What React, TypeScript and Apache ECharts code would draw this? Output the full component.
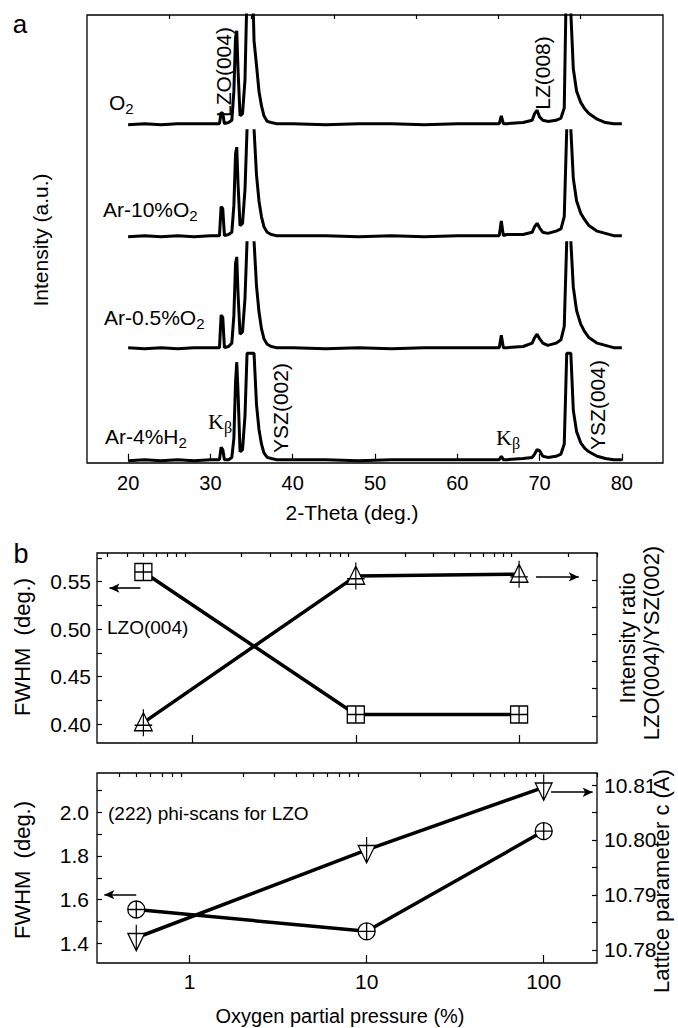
import React, { useEffect, useRef } from "react";
import * as echarts from "echarts";

// ---------- Panel a: XRD theta-2theta scans ----------
const twoTheta = [
  20, 22, 24, 26, 28, 30,
  31.1, 31.3, 31.5, 31.7,
  32.2, 32.6, 32.85, 33.05, 33.2, 33.35, 33.6, 33.9,
  34.2, 34.45, 34.7, 35.0, 35.3, 35.6, 35.9, 36.2, 36.5, 36.9, 37.4, 38,
  40, 44, 48, 52, 56, 60, 63,
  65.1, 65.35, 65.6, 66, 68,
  69.1, 69.4, 69.7, 70.0, 70.4, 71, 72,
  72.6, 73.0, 73.3, 73.55, 73.8, 74.1, 74.5, 75, 75.5, 76, 77, 78, 79, 80,
];
// intensities relative to each trace's own baseline (null = off the visible window)
const traceO2 = [
  0.0, 0.01, 0.0, 0.01, 0.01, 0.01,
  0.01, 0.11, 0.1, 0.01,
  0.02, 0.04, 0.3, 0.78, 0.84, 0.5, 0.08, 0.1,
  0.4, 1.2, 1.6, 1.6, 0.75, 0.53, 0.3, 0.17, 0.08, 0.03, 0.02, 0.01,
  0.01, 0.0, 0.01, 0.01, 0.0, 0.01, 0.01,
  0.01, 0.08, 0.01, 0.01, 0.02,
  0.04, 0.1, 0.13, 0.07, 0.04, 0.03, 0.04,
  0.06, 0.15, 1.5, 1.6, 1.0, 0.5, 0.3, 0.2, 0.14, 0.1, 0.05, 0.02, 0.01, 0.01,
];
const traceAr10O2 = [
  0.0, 0.01, 0.0, 0.01, 0.0, 0.01,
  0.01, 0.27, 0.25, 0.01,
  0.02, 0.04, 0.28, 0.74, 0.8, 0.48, 0.1, 0.12,
  0.42, 0.96, null, null, 0.96, 0.55, 0.32, 0.18, 0.09, 0.04, 0.02, 0.01,
  0.01, 0.01, 0.0, 0.01, 0.0, 0.01, 0.01,
  0.01, 0.14, 0.01, 0.02, 0.02,
  0.04, 0.09, 0.12, 0.08, 0.04, 0.03, 0.05,
  0.07, 0.18, 0.96, null, 0.96, 0.52, 0.32, 0.21, 0.15, 0.1, 0.05, 0.03, 0.01, 0.01,
];
const traceAr05O2 = [
  0.01, 0.0, 0.01, 0.0, 0.01, 0.01,
  0.01, 0.3, 0.28, 0.01,
  0.02, 0.05, 0.3, 0.76, 0.82, 0.5, 0.13, 0.15,
  0.45, 0.96, null, null, 0.96, 0.56, 0.33, 0.18, 0.09, 0.04, 0.02, 0.01,
  0.01, 0.0, 0.01, 0.0, 0.01, 0.01, 0.01,
  0.01, 0.12, 0.01, 0.01, 0.02,
  0.05, 0.1, 0.13, 0.09, 0.05, 0.03, 0.05,
  0.08, 0.2, 0.96, null, 0.96, 0.55, 0.34, 0.22, 0.15, 0.1, 0.05, 0.03, 0.01, 0.01,
];
const traceAr4H2 = [
  0.0, 0.01, 0.0, 0.01, 0.0, 0.01,
  0.01, 0.12, 0.1, 0.01,
  0.01, 0.03, 0.2, 0.7, 0.88, 0.62, 0.08, 0.1,
  0.4, 0.96, 0.96, 0.96, 0.96, 0.5, 0.28, 0.15, 0.07, 0.03, 0.02, 0.01,
  0.01, 0.01, 0.0, 0.01, 0.01, 0.01, 0.01,
  0.01, 0.04, 0.01, 0.01, 0.02,
  0.03, 0.06, 0.1, 0.09, 0.04, 0.03, 0.04,
  0.06, 0.15, 0.96, 0.96, 0.96, 0.45, 0.26, 0.16, 0.11, 0.08, 0.04, 0.02, 0.01, 0.01,
];
const traces = [traceO2, traceAr10O2, traceAr05O2, traceAr4H2];
const traceOffsets = [3, 2, 1, 0];
const thetaTicks = [20, 30, 40, 50, 60, 70, 80];
const thetaMinorTicks = [25, 35, 45, 55, 65, 75];

// ---------- Panel b ----------
const pressure = [0.5, 10, 100];
const lzoFwhm = [0.56, 0.41, 0.41];
const intensityRatio = [0.75, 6.15, 6.22]; // unlabelled right axis
const phiFwhm = [1.555, 1.455, 1.914];
const latticeC = [10.7822, 10.7982, 10.8096];

const pressureTicks = [1, 10, 100];
const pressureMinorMid = [0.3, 0.4, 0.5, 0.6, 0.7, 0.8, 0.9, 2, 3, 4, 5, 6, 7, 8, 9, 20, 30, 40, 50, 60, 70, 80, 90, 200, 300];
const pressureMinorBot = [0.4, 0.5, 0.6, 0.7, 0.8, 0.9, 2, 3, 4, 5, 6, 7, 8, 9, 20, 30, 40, 50, 60, 70, 80, 90, 200];
const fwhmTopLabels = [0.4, 0.45, 0.5, 0.55];
const fwhmTopTicks = [0.4, 0.425, 0.45, 0.475, 0.5, 0.525, 0.55, 0.575];
const ratioTicks = [1, 2, 3, 4, 5, 6];
const fwhmBotLabels = [1.4, 1.6, 1.8, 2.0];
const fwhmBotTicks = [1.4, 1.5, 1.6, 1.7, 1.8, 1.9, 2.0, 2.1];
const latticeLabels = [10.78, 10.79, 10.8, 10.81];
const latticeTicks = [10.78, 10.785, 10.79, 10.795, 10.8, 10.805, 10.81];

// arrow annotations [x1, x2, y]
const arrowLzo = [0.48, 0.31, 0.543];
const arrowRatio = [127, 232, 6.12];
const arrowPhi = [0.5, 0.33, 1.623];
const arrowLattice = [110, 189, 10.8087];

const FONT = "'Liberation Sans', Arial, Helvetica, sans-serif";
const SERIF = "'Liberation Serif', 'Times New Roman', serif";

const SYM_SQUARE = "path://M0,0H10V10H0Z M5,0V10 M0,5H10";
const SYM_TRI_UP = "path://M0,12L6,2L12,12Z M6,0V15 M0,9H12";
const SYM_CIRCLE = "path://M0,5A5,5,0,1,1,10,5A5,5,0,1,1,0,5Z M5,0V10 M0,5H10";
const SYM_TRI_DOWN = "path://M0,5H12L6,15Z M6,0V15";

function arrowMark(a: number[]) {
  return {
    silent: true,
    symbol: ["none", "arrow"],
    symbolSize: [7, 10],
    label: { show: false },
    lineStyle: { color: "#000", width: 1.6, type: "solid" },
    data: [[{ coord: [a[0], a[2]] }, { coord: [a[1], a[2]] }]],
  };
}

function subText(x: number, y: number, main: string, sub: string, size = 21) {
  return {
    type: "text",
    x,
    y,
    style: {
      text: `{n|${main}}{s|${sub}}`,
      align: "left",
      verticalAlign: "middle",
      fill: "#000",
      rich: {
        n: { fontSize: size, fontFamily: FONT, lineHeight: 28, verticalAlign: "middle", fill: "#000" },
        s: { fontSize: 15, fontFamily: FONT, lineHeight: 15, verticalAlign: "bottom", fill: "#000" },
      },
    },
  };
}

function kBeta(x: number, y: number) {
  return {
    type: "text",
    x,
    y,
    style: {
      text: "{n|K}{s|β}",
      align: "left",
      verticalAlign: "middle",
      fill: "#000",
      rich: {
        n: { fontSize: 22, fontFamily: SERIF, lineHeight: 28, verticalAlign: "middle", fill: "#000" },
        s: { fontSize: 16, fontFamily: SERIF, lineHeight: 16, verticalAlign: "bottom", fill: "#000" },
      },
    },
  };
}

function rotText(x: number, y: number, text: string, size = 21) {
  return {
    type: "text",
    x,
    y,
    rotation: Math.PI / 2,
    style: { text, fontSize: size, fontFamily: FONT, fill: "#000", align: "center", verticalAlign: "middle" },
  };
}

function plainText(x: number, y: number, text: string, size = 21, align = "left") {
  return {
    type: "text",
    x,
    y,
    style: { text, fontSize: size, fontFamily: FONT, fill: "#000", align, verticalAlign: "middle" },
  };
}

export default function App() {
  const ref = useRef<HTMLDivElement>(null);
  useEffect(() => {
    if (!ref.current) return;
    const chart = echarts.init(ref.current, undefined, { renderer: "svg" });

    const gridBase = { show: true, borderColor: "#000", borderWidth: 1.3, backgroundColor: "transparent", containLabel: false };
    const noLine = { show: false };
    const labelStyle = { color: "#000", fontFamily: FONT, fontSize: 21 };

    const xrdSeries = traces.map((tr, k) => ({
      type: "line",
      name: String(k),
      xAxisIndex: 0,
      yAxisIndex: 0,
      showSymbol: false,
      symbol: "none",
      connectNulls: false,
      clip: true,
      lineStyle: { color: "#000", width: 3 },
      data: twoTheta.map((t, i) => [t, tr[i] == null ? "-" : (tr[i] as number) + traceOffsets[k]]),
    }));

    const option: any = {
      animation: false,
      grid: [
        { ...gridBase, left: 87, top: 15, width: 576, height: 448 },
        { ...gridBase, left: 97, top: 553, width: 500, height: 190 },
        { ...gridBase, left: 97, top: 773, width: 500, height: 190 },
      ],
      xAxis: [
        {
          type: "value", gridIndex: 0, min: 15, max: 85,
          axisLine: noLine, splitLine: noLine,
          axisTick: { show: true, inside: true, length: 7, customValues: thetaTicks, lineStyle: { color: "#000", width: 1.2 } },
          axisLabel: { ...labelStyle, fontSize: 20, margin: 10, customValues: thetaTicks },
        },
        {
          type: "value", gridIndex: 0, min: 15, max: 85,
          axisLine: noLine, splitLine: noLine, axisLabel: { show: false },
          axisTick: { show: true, inside: true, length: 4, customValues: thetaMinorTicks, lineStyle: { color: "#000", width: 1.2 } },
        },
        {
          type: "log", logBase: 10, gridIndex: 1, min: 0.26, max: 300,
          axisLine: noLine, splitLine: noLine, axisLabel: { show: false },
          axisTick: { show: true, inside: true, length: 8, customValues: pressureTicks, lineStyle: { color: "#000", width: 1.2 } },
        },
        {
          type: "log", logBase: 10, gridIndex: 1, min: 0.26, max: 300,
          axisLine: noLine, splitLine: noLine, axisLabel: { show: false },
          axisTick: { show: true, inside: true, length: 4, customValues: pressureMinorMid, lineStyle: { color: "#000", width: 1.2 } },
        },
        {
          type: "log", logBase: 10, gridIndex: 2, min: 0.3, max: 200,
          axisLine: noLine, splitLine: noLine,
          axisLabel: { ...labelStyle, margin: 8, customValues: pressureTicks, formatter: (v: number) => String(Math.round(v)) },
          axisTick: { show: true, inside: true, length: 8, customValues: pressureTicks, lineStyle: { color: "#000", width: 1.2 } },
        },
        {
          type: "log", logBase: 10, gridIndex: 2, min: 0.3, max: 200,
          axisLine: noLine, splitLine: noLine, axisLabel: { show: false },
          axisTick: { show: true, inside: true, length: 4, customValues: pressureMinorBot, lineStyle: { color: "#000", width: 1.2 } },
        },
      ],
      yAxis: [
        {
          type: "value", gridIndex: 0, min: -0.02, max: 3.98,
          axisLine: noLine, splitLine: noLine, axisLabel: { show: false }, axisTick: { show: false },
        },
        {
          type: "value", gridIndex: 1, min: 0.38, max: 0.58, position: "left",
          axisLine: noLine, splitLine: noLine,
          axisLabel: { ...labelStyle, margin: 6, customValues: fwhmTopLabels, formatter: (v: number) => v.toFixed(2) },
          axisTick: { show: true, inside: true, length: 5, customValues: fwhmTopTicks, lineStyle: { color: "#000", width: 1.2 } },
        },
        {
          type: "value", gridIndex: 1, min: 0, max: 7, position: "right",
          axisLine: noLine, splitLine: noLine, axisLabel: { show: false },
          axisTick: { show: true, inside: true, length: 5, customValues: ratioTicks, lineStyle: { color: "#000", width: 1.2 } },
        },
        {
          type: "value", gridIndex: 2, min: 1.31, max: 2.18, position: "left",
          axisLine: noLine, splitLine: noLine,
          axisLabel: { ...labelStyle, margin: 8, customValues: fwhmBotLabels, formatter: (v: number) => v.toFixed(1) },
          axisTick: { show: true, inside: true, length: 5, customValues: fwhmBotTicks, lineStyle: { color: "#000", width: 1.2 } },
        },
        {
          type: "value", gridIndex: 2, min: 10.7776, max: 10.8122, position: "right",
          axisLine: noLine, splitLine: noLine,
          axisLabel: { ...labelStyle, margin: 7, customValues: latticeLabels, formatter: (v: number) => v.toFixed(2) },
          axisTick: { show: true, inside: true, length: 5, customValues: latticeTicks, lineStyle: { color: "#000", width: 1.2 } },
        },
      ],
      series: [
        ...xrdSeries,
        {
          type: "line", xAxisIndex: 2, yAxisIndex: 1,
          data: pressure.map((p, i) => [p, lzoFwhm[i]]),
          symbol: SYM_SQUARE, symbolSize: 17, symbolKeepAspect: true,
          lineStyle: { color: "#000", width: 3.5 },
          itemStyle: { color: "#fff", borderColor: "#000", borderWidth: 1.3 },
          markLine: arrowMark(arrowLzo),
        },
        {
          type: "line", xAxisIndex: 2, yAxisIndex: 2,
          data: pressure.map((p, i) => [p, intensityRatio[i]]),
          symbol: SYM_TRI_UP, symbolSize: [22, 27], symbolKeepAspect: true,
          lineStyle: { color: "#000", width: 3.5 },
          itemStyle: { color: "#fff", borderColor: "#000", borderWidth: 1.3 },
          markLine: arrowMark(arrowRatio),
        },
        {
          type: "line", xAxisIndex: 4, yAxisIndex: 3,
          data: pressure.map((p, i) => [p, phiFwhm[i]]),
          symbol: SYM_CIRCLE, symbolSize: 17, symbolKeepAspect: true,
          lineStyle: { color: "#000", width: 3.5 },
          itemStyle: { color: "#fff", borderColor: "#000", borderWidth: 1.3 },
          markLine: arrowMark(arrowPhi),
        },
        {
          type: "line", xAxisIndex: 4, yAxisIndex: 4,
          data: pressure.map((p, i) => [p, latticeC[i]]),
          symbol: SYM_TRI_DOWN, symbolSize: [21, 26], symbolKeepAspect: true,
          lineStyle: { color: "#000", width: 3.5 },
          itemStyle: { color: "#fff", borderColor: "#000", borderWidth: 1.3 },
          markLine: arrowMark(arrowLattice),
        },
      ],
      graphic: [
        plainText(20, 24, "a", 26, "center"),
        plainText(21, 554, "b", 27, "center"),
        rotText(40, 240, "Intensity (a.u.)", 21),
        plainText(352, 512, "2-Theta (deg.)", 21, "center"),
        subText(109, 102, "O", "2"),
        subText(103, 209, "Ar-10%O", "2"),
        subText(104, 317, "Ar-0.5%O", "2"),
        subText(105, 436, "Ar-4%H", "2"),
        kBeta(208, 421),
        kBeta(496, 437),
        rotText(223, 72, "LZO(004)", 21),
        rotText(542, 73, "LZ(008)", 21),
        rotText(280, 408, "YSZ(002)", 21),
        rotText(597, 405, "YSZ(004)", 21),
        rotText(22, 647, "FWHM  (deg.)", 22),
        rotText(22, 870, "FWHM  (deg.)", 22),
        plainText(107, 627, "LZO(004)", 19),
        plainText(108, 813, "(222) phi-scans for LZO", 19),
        rotText(627, 638, "Intensity ratio", 22),
        rotText(651, 643, "LZO(004)/YSZ(002)", 22),
        rotText(661, 881, "Lattice parameter c (A)", 22),
        plainText(340, 1016, "Oxygen partial pressure (%)", 20, "center"),
      ],
    };
    chart.setOption(option);
    return () => chart.dispose();
  }, []);

  return (
    <div
      ref={ref}
      style={{ position: "absolute", left: 0, top: 0, width: 678, height: 1028, background: "#fff" }}
    />
  );
}
